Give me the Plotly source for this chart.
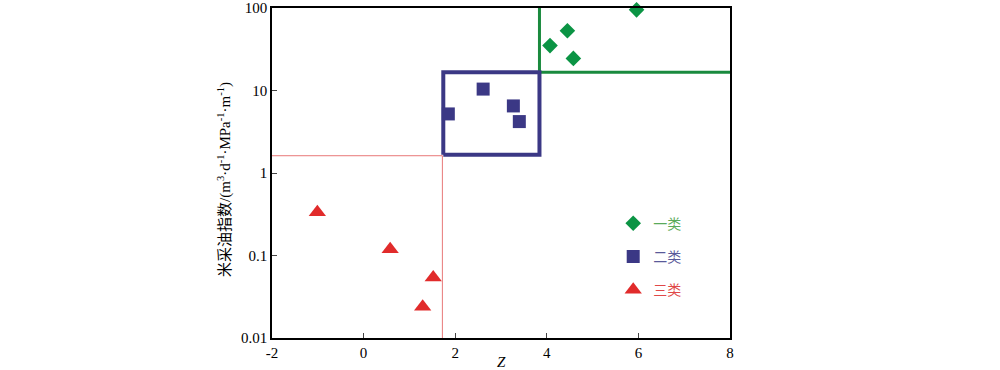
import plotly.graph_objects as go

# Data
class1_z = [4.07, 4.45, 4.58, 5.96]
class1_v = [35.0, 53.0, 24.5, 95.0]
class2_z = [1.85, 2.61, 3.27, 3.40]
class2_v = [5.2, 10.4, 6.5, 4.2]
class3_z = [-1.01, 0.58, 1.52, 1.29]
class3_v = [0.334, 0.119, 0.054, 0.024]

# Boundary lines
box2_z = [1.74, 3.84, 3.84, 1.74, 1.74]
box2_v = [1.66, 1.66, 16.7, 16.7, 1.66]
green_z = [3.84, 3.84, 8.0]
green_v = [100.0, 16.7, 16.7]
red_z = [-2.0, 1.72, 1.72]
red_v = [1.62, 1.62, 0.01]

y_ticks = [0.01, 0.1, 1, 10, 100]
y_ticktext = ["0.01", "0.1", "1", "10", "100"]
x_ticks = [-2, 0, 2, 4, 6, 8]
x_ticktext = ["-2", "0", "2", "4", "6", "8"]
y_title = "米采油指数/(m<sup>3</sup>·d<sup>-1</sup>·MPa<sup>-1</sup>·m<sup>-1</sup>)"
x_title = "<i>Z</i>"

GREEN = "#0b9444"
BLUE = "#3b3885"
RED = "#e12b2b"
SERIF = '"Liberation Serif", "Times New Roman", serif'

fig = go.Figure()
fig.add_trace(go.Scatter(x=red_z, y=red_v, mode="lines",
                         line=dict(color="#e87878", width=1), showlegend=False, hoverinfo="skip"))
fig.add_trace(go.Scatter(x=green_z, y=green_v, mode="lines",
                         line=dict(color="#1a8a3e", width=3), showlegend=False, hoverinfo="skip"))
fig.add_trace(go.Scatter(x=box2_z, y=box2_v, mode="lines",
                         line=dict(color=BLUE, width=4), showlegend=False, hoverinfo="skip"))

fig.add_trace(go.Scatter(x=class1_z, y=class1_v, mode="markers", cliponaxis=False,
                         marker=dict(symbol="diamond", size=12, color=GREEN),
                         name="<span style='color:#5aaa5a'>一类</span>", legendgroup="g1"))
fig.add_trace(go.Scatter(x=class2_z, y=class2_v, mode="markers", cliponaxis=False,
                         marker=dict(symbol="square", size=13, color=BLUE),
                         name="<span style='color:#5a5a9a'>二类</span>", legendgroup="g2"))
fig.add_trace(go.Scatter(x=class3_z, y=class3_v, mode="markers", cliponaxis=False,
                         marker=dict(symbol="triangle-up", size=15, color=RED),
                         name="<span style='color:#e04848'>三类</span>", legendgroup="g3"))

fig.update_layout(
    width=1000, height=370,
    margin=dict(l=272, r=270, t=8, b=32),
    paper_bgcolor="white", plot_bgcolor="white",
    font=dict(family=SERIF, size=15, color="black"),
    showlegend=True,
    legend=dict(x=0.745, y=0.395, xanchor="left", yanchor="top",
                bgcolor="rgba(0,0,0,0)", tracegroupgap=12,
                traceorder="grouped",
                font=dict(family='"Noto Sans CJK SC"', size=14),
                itemsizing="trace"),
    xaxis=dict(range=[-2, 8], tickvals=x_ticks, ticktext=x_ticktext,
               ticks="inside", ticklen=5, automargin=False,
               tickfont=dict(family=SERIF, size=15),
               showline=True, mirror=True, linecolor="black", linewidth=1.5,
               showgrid=False, zeroline=False),
    yaxis=dict(type="log", range=[-2, 2], tickvals=y_ticks, ticktext=y_ticktext,
               ticks="inside", ticklen=5, automargin=False,
               tickfont=dict(family=SERIF, size=15),
               showline=True, mirror=True, linecolor="black", linewidth=1.5,
               showgrid=False, zeroline=False),
    annotations=[
        dict(text=y_title, xref="paper", yref="paper", x=-0.1026, y=0.479,
             xanchor="center", yanchor="middle", textangle=-90, showarrow=False,
             font=dict(family='"Liberation Serif", "Noto Sans CJK SC", serif', size=15)),
        dict(text=x_title, xref="paper", yref="paper", x=0.5, y=-0.073,
             xanchor="center", yanchor="middle", showarrow=False,
             font=dict(family=SERIF, size=15)),
    ],
)

fig.write_html("out.html")
